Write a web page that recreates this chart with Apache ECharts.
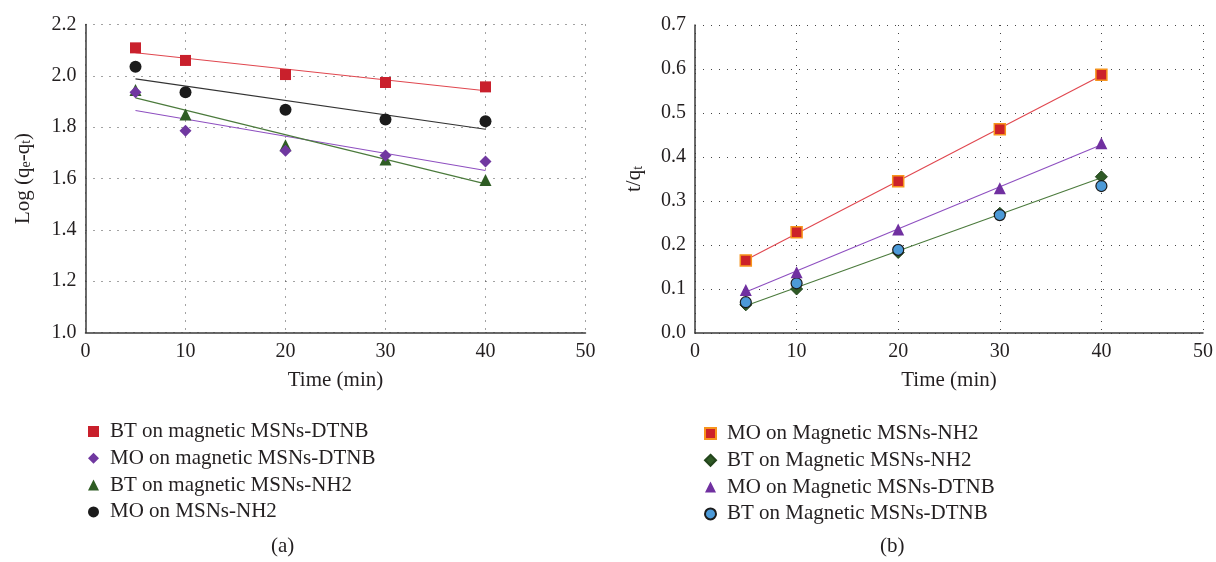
<!DOCTYPE html>
<html>
<head>
<meta charset="utf-8">
<script src="https://cdn.jsdelivr.net/npm/echarts@6/dist/echarts.min.js"></script>
<style>html,body{margin:0;padding:0;background:#fff;}#c{width:1216px;height:562px;}</style>
</head>
<body>
<div id="c"></div>
<script>
// ---------- data ----------
const timeA = [5, 10, 20, 30, 40];
const timeB = [5, 10, 20, 30, 40];
const fitX = [5, 40];

// (a) Log(qe - qt)
const btDtnbA = [2.109, 2.060, 2.005, 1.974, 1.957];
const moDtnbA = [1.936, 1.786, 1.708, 1.690, 1.666];
const btNh2A  = [1.945, 1.849, 1.730, 1.674, 1.594];
const moNh2A  = [2.035, 1.936, 1.868, 1.830, 1.823];
const btDtnbAFit = [2.090, 1.942];
const moDtnbAFit = [1.865, 1.631];
const btNh2AFit  = [1.914, 1.579];
const moNh2AFit  = [1.988, 1.792];

// (b) t/qt
const moNh2B  = [0.165, 0.229, 0.345, 0.463, 0.587];
const btNh2B  = [0.064, 0.100, 0.183, 0.272, 0.355];
const moDtnbB = [0.098, 0.138, 0.235, 0.329, 0.431];
const btDtnbB = [0.070, 0.113, 0.189, 0.268, 0.334];
const moNh2BFit  = [0.166, 0.585];
const btNh2BFit  = [0.062, 0.353];
const moDtnbBFit = [0.093, 0.428];

const namesA = ['BT on magnetic MSNs-DTNB', 'MO on magnetic MSNs-DTNB', 'BT on magnetic MSNs-NH2', 'MO on MSNs-NH2'];
const namesB = ['MO on Magnetic MSNs-NH2', 'BT on Magnetic MSNs-NH2', 'MO on Magnetic MSNs-DTNB', 'BT on Magnetic MSNs-DTNB'];
const xTicks = [0, 10, 20, 30, 40, 50];

// ---------- helpers ----------
const FONT = 'Liberation Serif';
const TXT = '#231f20';
const pts = (xs, ys) => xs.map((x, i) => [x, ys[i]]);
const gridLine = {show: true, lineStyle: {color: '#444', width: 1, type: [1, 7]}};
function xAxis(gi) {
  return {
    type: 'value', gridIndex: gi, min: 0, max: 50, interval: 10,
    name: 'Time (min)', nameLocation: 'middle', nameGap: 37,
    nameTextStyle: {fontFamily: FONT, fontSize: 21, color: TXT},
    axisLine: {show: true, onZero: false, lineStyle: {color: '#3a3a3a', width: 1.5}},
    axisTick: {show: false},
    axisLabel: {fontFamily: FONT, fontSize: 20, color: TXT, margin: 9,
      formatter: v => xTicks.includes(v) ? String(v) : ''},
    splitLine: gridLine
  };
}
function yAxis(gi, min, max, interval, name, gap) {
  return {
    type: 'value', gridIndex: gi, min: min, max: max, interval: interval,
    name: name, nameLocation: 'middle', nameGap: gap,
    nameTextStyle: {fontFamily: FONT, fontSize: 21, color: TXT,
      rich: {sub: {fontFamily: FONT, fontSize: 14, color: TXT, verticalAlign: 'bottom', lineHeight: 14}}},
    axisLine: {show: true, onZero: false, lineStyle: {color: '#3a3a3a', width: 1.5}},
    axisTick: {show: false},
    axisLabel: {fontFamily: FONT, fontSize: 20, color: TXT, margin: 9,
      formatter: v => v.toFixed(1)},
    splitLine: gridLine
  };
}
function scatter(name, gi, xs, ys, symbol, size, color, border, bw) {
  return {
    type: 'scatter', name: name, xAxisIndex: gi, yAxisIndex: gi,
    data: pts(xs, ys), symbol: symbol, symbolSize: size, z: 5,
    itemStyle: {color: color, borderColor: border || color, borderWidth: bw || 0, opacity: 1},
    emphasis: {disabled: true}
  };
}
function fit(gi, ys, color) {
  return {
    type: 'line', xAxisIndex: gi, yAxisIndex: gi, data: pts(fitX, ys),
    showSymbol: false, symbol: 'none', silent: true, z: 3,
    lineStyle: {color: color, width: 1.1}
  };
}
const legendBase = {
  orient: 'vertical', itemWidth: 11, itemHeight: 11, itemGap: 5.8,
  selectedMode: false,
  textStyle: {fontFamily: FONT, fontSize: 21, color: TXT, lineHeight: 20, padding: [0, 0, 0, 6]}
};

const option = {
  backgroundColor: '#fff',
  animation: false,
  grid: [
    {left: 85.5, top: 24.5, width: 500, height: 308},
    {left: 695, top: 25, width: 511, height: 308}
  ],
  xAxis: [xAxis(0), xAxis(1)],
  yAxis: [
    yAxis(0, 1.0, 2.2, 0.2, 'Log (q{sub|e}-q{sub|t})', 52),
    yAxis(1, 0.0, 0.7, 0.1, 't/q{sub|t}', 50)
  ],
  legend: [
    Object.assign({}, legendBase, {data: namesA, left: 83, top: 416}),
    Object.assign({}, legendBase, {data: namesB, left: 699, top: 418})
  ],
  series: [
    fit(0, btDtnbAFit, '#e0474f'),
    fit(0, moNh2AFit, '#333333'),
    fit(0, moDtnbAFit, '#8e4fc0'),
    fit(0, btNh2AFit, '#4b7a3c'),
    scatter(namesA[3], 0, timeA, moNh2A, 'circle', 12, '#1b1b1b'),
    scatter(namesA[0], 0, timeA, btDtnbA, 'rect', 11, '#c9202c'),
    scatter(namesA[2], 0, timeA, btNh2A, 'triangle', 12, '#2f5d24'),
    scatter(namesA[1], 0, timeA, moDtnbA, 'diamond', 12, '#7038a0'),

    fit(1, moNh2BFit, '#e0474f'),
    fit(1, moDtnbBFit, '#8e4fc0'),
    fit(1, btNh2BFit, '#4b7a3c'),
    scatter(namesB[1], 1, timeB, btNh2B, 'diamond', 12, '#2f5a26', '#23451c', 1),
    scatter(namesB[3], 1, timeB, btDtnbB, 'circle', 11, '#4c9ad8', '#1b1b1b', 1.2),
    scatter(namesB[2], 1, timeB, moDtnbB, 'triangle', 12, '#7030a0'),
    scatter(namesB[0], 1, timeB, moNh2B, 'rect', 11, '#cc2229', '#f7941d', 1.5)
  ],
  graphic: [
    {type: 'text', left: 271, top: 536, style: {text: '(a)', fontFamily: FONT, fontSize: 21, fill: TXT}},
    {type: 'text', left: 880, top: 536, style: {text: '(b)', fontFamily: FONT, fontSize: 21, fill: TXT}}
  ]
};
const chart = echarts.init(document.getElementById('c'), null, {renderer: 'canvas'});
chart.setOption(option);
</script>
</body>
</html>
